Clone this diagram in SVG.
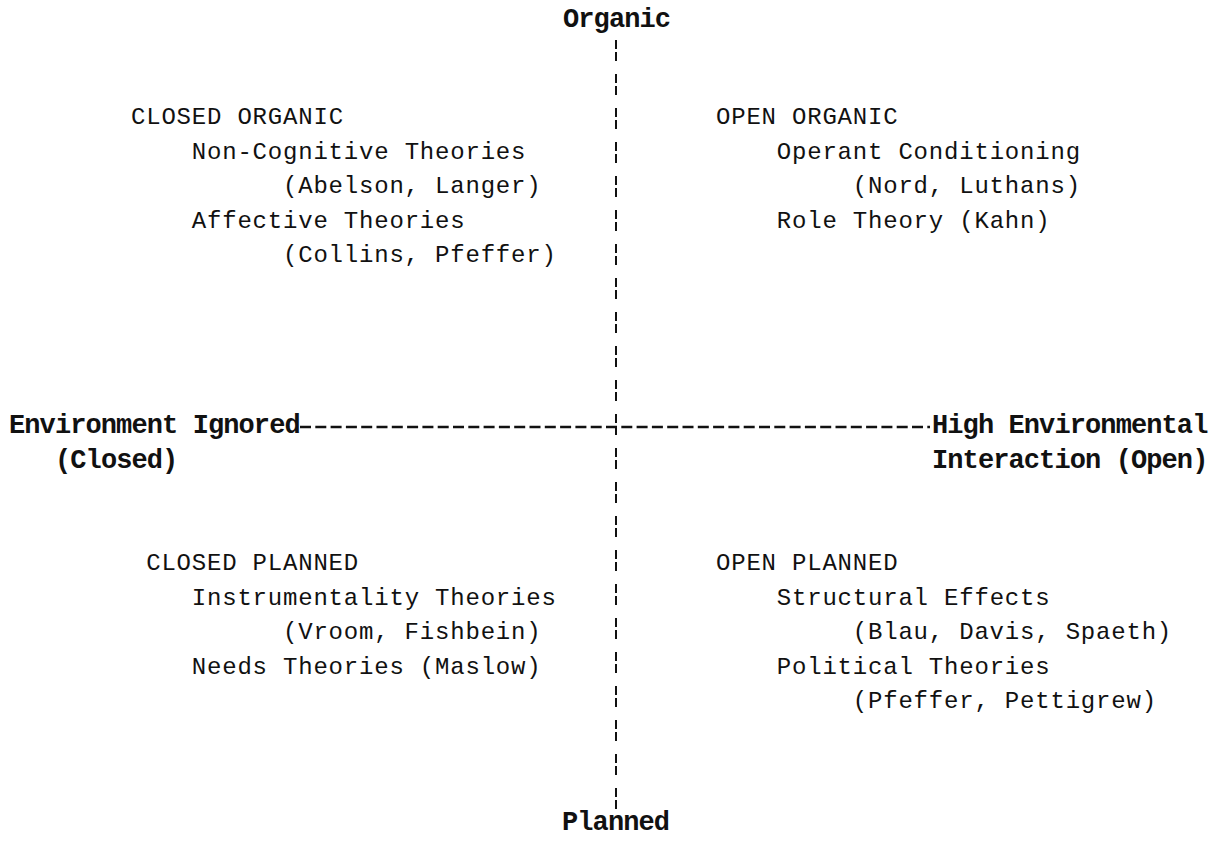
<svg xmlns="http://www.w3.org/2000/svg" width="1223" height="845" viewBox="0 0 1223 845">
<style>
.t{font-family:"Liberation Mono","DejaVu Sans Mono",monospace;font-size:24px;letter-spacing:0.8px;fill:#111}
.b{font-family:"Liberation Mono","DejaVu Sans Mono",monospace;font-size:27px;font-weight:bold;letter-spacing:-0.9px;fill:#111}
.h{stroke:#111;stroke-width:2.5;stroke-dasharray:11 4.3;fill:none}
.v{stroke:#111;stroke-width:2;stroke-dasharray:9 3 9 13;fill:none}
</style>
<rect width="1223" height="845" fill="#fff"/>
<g id="connectors">
<line class="v" x1="616" y1="40" x2="616" y2="812"/>
<line class="h" x1="300" y1="427" x2="930" y2="427"/>
</g>
<g id="axis-organic"><text class="b" x="563" y="27">Organic</text></g>
<g id="axis-planned"><text class="b" x="562" y="830">Planned</text></g>
<g id="axis-closed"><text class="b" x="9" y="433">Environment Ignored</text><text class="b" x="55" y="468">(Closed)</text></g>
<g id="axis-open"><text class="b" x="932" y="433">High Environmental</text><text class="b" x="932" y="468">Interaction (Open)</text></g>
<g id="closed-organic">
<text class="t" x="131" y="124">CLOSED ORGANIC</text>
<text class="t" x="191.8" y="158.5">Non-Cognitive Theories</text>
<text class="t" x="283" y="193">(Abelson, Langer)</text>
<text class="t" x="191.8" y="227.5">Affective Theories</text>
<text class="t" x="283" y="262">(Collins, Pfeffer)</text>
</g>
<g id="open-organic">
<text class="t" x="716" y="124">OPEN ORGANIC</text>
<text class="t" x="776.8" y="158.5">Operant Conditioning</text>
<text class="t" x="852.8" y="193">(Nord, Luthans)</text>
<text class="t" x="776.8" y="227.5">Role Theory (Kahn)</text>
</g>
<g id="closed-planned">
<text class="t" x="146.2" y="570">CLOSED PLANNED</text>
<text class="t" x="191.8" y="604.5">Instrumentality Theories</text>
<text class="t" x="283" y="639">(Vroom, Fishbein)</text>
<text class="t" x="191.8" y="673.5">Needs Theories (Maslow)</text>
</g>
<g id="open-planned">
<text class="t" x="716" y="570">OPEN PLANNED</text>
<text class="t" x="776.8" y="604.5">Structural Effects</text>
<text class="t" x="852.8" y="639">(Blau, Davis, Spaeth)</text>
<text class="t" x="776.8" y="673.5">Political Theories</text>
<text class="t" x="852.8" y="708">(Pfeffer, Pettigrew)</text>
</g>
</svg>
